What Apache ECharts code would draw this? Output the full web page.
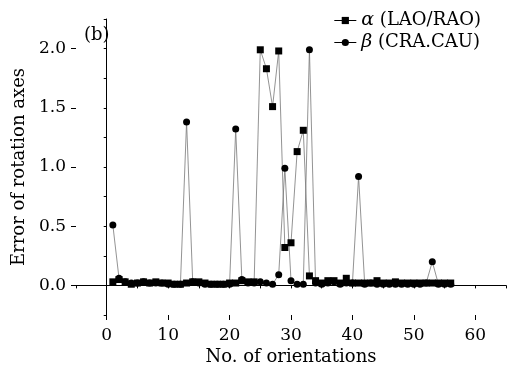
<!DOCTYPE html>
<html>
<head>
<meta charset="utf-8">
<script src="https://cdn.jsdelivr.net/npm/echarts@6/dist/echarts.min.js"></script>
<style>
  html, body { margin: 0; padding: 0; background: #fff; }
  #chart { width: 507px; height: 371px; }
</style>
</head>
<body>
<div id="chart"></div>
<script>
// orientation index 1..56
const orientations = [1,2,3,4,5,6,7,8,9,10,11,12,13,14,15,16,17,18,19,20,21,22,23,24,25,26,27,28,
  29,30,31,32,33,34,35,36,37,38,39,40,41,42,43,44,45,46,47,48,49,50,51,52,53,54,55,56]

const alphaErr = [0.03,0.05,0.03,0.01,0.02,0.03,0.02,0.03,0.02,0.02,0.01,0.01,0.02,0.03,0.03,0.02,
  0.01,0.01,0.01,0.02,0.02,0.04,0.03,0.03,1.99,1.83,1.51,1.98,0.32,0.36,1.13,1.31,0.08,0.04,0.02,
  0.04,0.04,0.02,0.06,0.02,0.02,0.02,0.02,0.04,0.02,0.02,0.03,0.02,0.02,0.02,0.02,0.02,0.02,0.02,0.02,0.02]

const betaErr = [0.51,0.06,0.03,0.02,0.02,0.03,0.02,0.02,0.02,0.01,0.01,0.01,1.38,0.03,0.02,0.01,
  0.01,0.01,0.01,0.01,1.32,0.05,0.02,0.02,0.03,0.02,0.01,0.09,0.99,0.04,0.01,0.01,1.99,0.02,0.01,
  0.02,0.03,0.01,0.02,0.02,0.92,0.01,0.02,0.01,0.01,0.01,0.01,0.01,0.01,0.01,0.01,0.02,0.20,0.01,0.01,0.01]

// tick positions (labels shown on the majors only)
const xTicks = [-5,0,5,10,15,20,25,30,35,40,45,50,55,60,65]
const yTicks = ["-0.25","0.0","0.25","0.5","0.75","1.0","1.25","1.5","1.75","2.0","2.25"]

const FONT = "DejaVu Serif"
const isMajor = (i) => i % 2 === 1

const chart = echarts.init(document.getElementById("chart"), null, { renderer: "canvas" })

const option = {
  animation: false,
  backgroundColor: "#fff",
  textStyle: { fontFamily: FONT, color: "#000" },
  grid: { left: 76, right: 1, top: 19, bottom: 53, containLabel: false },
  title: {
    text: "(b)",
    left: 79, top: 21,
    textStyle: { fontFamily: FONT, fontWeight: "normal", fontSize: 18, color: "#000" }
  },
  legend: {
    orient: "vertical",
    right: 22, top: 7,
    itemWidth: 22, itemHeight: 9, itemGap: 3, padding: [4, 4],
    textStyle: {
      fontFamily: FONT, fontSize: 18, color: "#000", lineHeight: 18,
      rich: { g: { fontFamily: FONT, fontStyle: "italic", fontSize: 19, lineHeight: 18 } }
    },
    formatter: (name) => name === "a" ? "{g|α} (LAO/RAO)" : "{g|β} (CRA.CAU)",
    data: [
      { name: "a", itemStyle: { color: "#000" }, lineStyle: { color: "#000", width: 1 } },
      { name: "b", itemStyle: { color: "#000" }, lineStyle: { color: "#000", width: 1 } }
    ]
  },
  xAxis: [
    {
      type: "value", min: -5, max: 65, interval: 5,
      axisLine: { lineStyle: { color: "#000", width: 1 } },
      axisTick: { show: true, length: 3, lineStyle: { color: "#000" } },
      axisLabel: { show: false },
      splitLine: { show: false },
      name: "No. of orientations", nameLocation: "middle", nameGap: 33,
      nameTextStyle: { fontFamily: FONT, fontSize: 18, color: "#000" }
    },
    {
      type: "category", data: xTicks, boundaryGap: false, position: "bottom",
      axisLine: { show: false },
      axisTick: { length: 5, interval: isMajor, lineStyle: { color: "#000" } },
      axisLabel: { interval: isMajor, fontFamily: FONT, fontSize: 17, color: "#000", margin: 12 }
    }
  ],
  yAxis: [
    {
      type: "value", min: -0.25, max: 2.25, interval: 0.25,
      axisLine: { show: true, lineStyle: { color: "#000", width: 1 } },
      axisTick: { show: true, length: 3, lineStyle: { color: "#000" } },
      axisLabel: { show: false },
      splitLine: { show: false },
      name: "Error of rotation axes", nameLocation: "middle", nameGap: 48,
      nameTextStyle: { fontFamily: FONT, fontSize: 18, color: "#000" }
    },
    {
      type: "category", data: yTicks, boundaryGap: false, position: "left",
      axisLine: { show: false },
      axisTick: { length: 5, interval: isMajor, lineStyle: { color: "#000" } },
      axisLabel: { interval: isMajor, fontFamily: FONT, fontSize: 17, color: "#000", margin: 10 }
    }
  ],
  series: [
    {
      name: "a", type: "line",
      data: orientations.map((x, i) => [x, alphaErr[i]]),
      symbol: "rect", symbolSize: 7,
      itemStyle: { color: "#000" },
      lineStyle: { color: "#777", width: 0.8 }
    },
    {
      name: "b", type: "line",
      data: orientations.map((x, i) => [x, betaErr[i]]),
      symbol: "circle", symbolSize: 7,
      itemStyle: { color: "#000" },
      lineStyle: { color: "#777", width: 0.8 }
    }
  ]
}

chart.setOption(option)
</script>
</body>
</html>
